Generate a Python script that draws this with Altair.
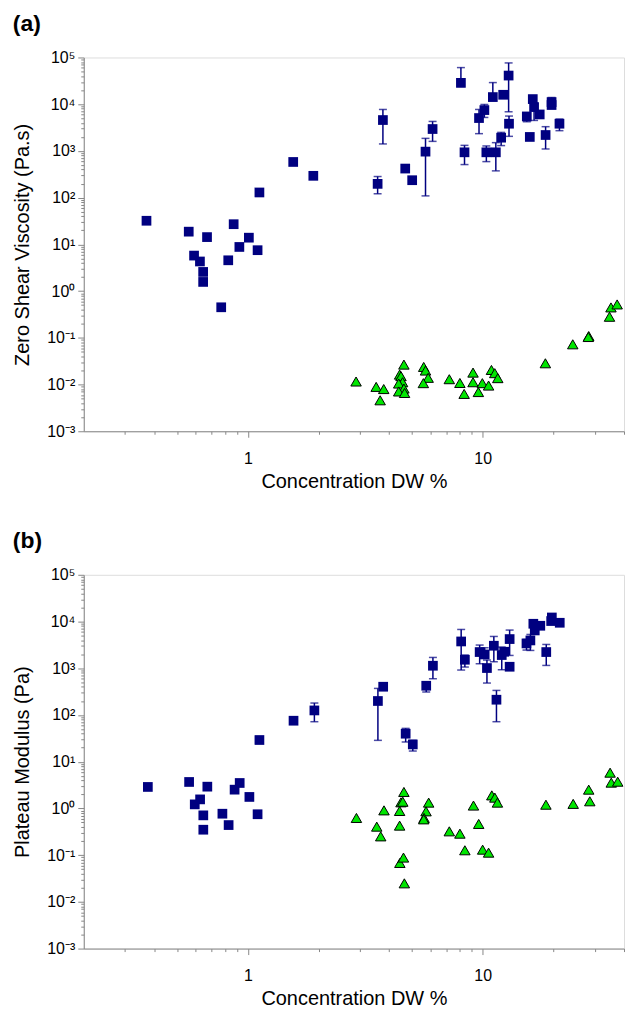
import altair as alt
import pandas as pd

FONT = "Liberation Sans"
NAVY = "#000080"
GREEN = "#00e600"

# ---------------- Panel (a): zero shear viscosity ----------------
a_blue_x = [0.37, 0.56, 0.67, 0.59, 0.625, 0.645, 0.645, 0.87, 0.825, 0.92, 1.01, 1.10, 1.12, 1.56, 1.90, 0.77,
            3.57, 3.76, 4.68, 5.01, 5.71, 6.12, 8.08, 8.37, 9.65, 10.17, 10.37, 11.05, 11.38, 11.99, 12.23,
            12.90, 12.95, 15.42, 15.88, 16.35, 16.56, 17.5, 18.54, 19.66, 19.66, 21.24]
a_blue_y = [32, 18.7, 14.3, 5.75, 4.3, 2.57, 1.57, 27, 4.56, 8.8, 13.9, 7.5, 129, 580, 293, 0.45,
            197, 4580, 419, 236, 965, 2940, 28600, 933, 5050, 7480, 933, 14200, 933, 1920, 15900,
            41000, 3820, 5470, 1990, 12850, 8670, 6030, 2190, 11100, 9600, 3820]
a_err_x = [1.56, 3.57, 3.76, 5.71, 6.12, 8.08, 8.37, 9.65, 10.17, 10.37, 11.05, 11.38, 11.99, 12.90,
           12.95, 15.42, 16.35, 16.56, 18.54, 19.66, 21.24]
a_err_lo = [520, 121, 1410, 109, 1600, 24000, 510, 2340, 5200, 590, 12000, 374, 1300, 6880,
            2050, 4210, 10800, 4490, 1100, 8090, 2710]
a_err_hi = [650, 283, 7710, 1855, 4275, 60700, 1315, 7710, 9860, 1277, 29000, 1502, 2490, 76400,
            5570, 6560, 15250, 10560, 3300, 13900, 4810]
a_green_x = [2.89, 3.52, 3.79, 3.66, 4.62, 4.43, 4.49, 4.56, 4.39, 4.62, 4.39, 4.65, 5.61, 5.71, 5.86,
             5.59, 7.21, 8.0, 8.34, 9.1, 9.1, 9.59, 9.97, 10.6, 10.9, 11.26, 11.6, 18.5, 24.2, 28.3,
             28.2, 34.7, 35.2, 37.4]
a_green_y = [0.0116, 0.0089, 0.0080, 0.0046, 0.0267, 0.0163, 0.0151, 0.0112, 0.0105, 0.0082, 0.0071,
             0.0066, 0.0238, 0.0199, 0.0139, 0.0107, 0.0130, 0.0108, 0.0063, 0.0180, 0.0112, 0.0069,
             0.0107, 0.0095, 0.0205, 0.0175, 0.0137, 0.0285, 0.0726, 0.109, 0.104, 0.282, 0.447, 0.518]

# ---------------- Panel (b): plateau modulus ----------------
b_blue_x = [0.375, 0.562, 0.626, 0.594, 0.672, 0.646, 0.646, 0.779, 0.828, 0.878, 0.923, 1.015, 1.10,
            1.12, 1.565, 1.92, 3.58, 4.70, 5.04, 11.45,
            3.77, 5.75, 6.14, 8.10, 8.40, 9.71, 10.2, 10.43, 11.16, 12.06, 12.35, 13.03, 13.03, 15.37,
            15.97, 16.44, 16.67, 17.6, 18.66, 19.71, 19.58, 21.3]
b_blue_y = [2.88, 3.68, 1.56, 1.22, 2.92, 0.71, 0.35, 0.77, 0.44, 2.52, 3.50, 1.76, 0.75,
            29.1, 75.3, 125, 199, 39.7, 23.4, 212,
            402, 422, 1131, 3743, 1520, 2220, 1973, 1010, 3030, 1915, 2254, 4210, 1076, 3394,
            3936, 8950, 6440, 8110, 2220, 12200, 10230, 9400]
b_err_x = [1.92, 3.58, 4.70, 5.04, 11.45, 5.75, 6.14, 8.10, 8.40, 9.71, 10.2, 10.43, 11.16, 12.06,
           13.03, 15.37, 15.97, 18.66]
b_err_lo = [71.7, 28.6, 26.4, 16.9, 71.7, 310, 596, 915, 1061, 1248, 1800, 482, 1377, 929,
            1879, 2449, 2404, 1148]
b_err_hi = [180, 370, 51.6, 28.6, 335, 514, 1702, 6760, 1915, 3135, 2746, 1497, 4790, 2840,
            6560, 4130, 5285, 3228]
b_green_x = [2.90, 3.54, 3.68, 3.80, 4.43, 4.43, 4.49, 4.57, 4.62, 4.44, 4.60, 4.64, 5.89, 5.74, 5.63,
             5.61, 7.21, 8.0, 8.40, 9.14, 9.62, 10.0, 10.6, 10.94, 11.27, 11.56, 18.6, 24.3, 28.3,
             28.6, 34.9, 35.3, 37.6]
b_green_y = [0.625, 0.407, 0.252, 0.908, 0.428, 0.881, 1.35, 1.39, 2.25, 0.068, 0.0886, 0.0249, 1.33,
             0.865, 0.625, 0.583, 0.323, 0.288, 0.127, 1.15, 0.465, 0.131, 0.113, 1.90, 1.70, 1.33,
             1.20, 1.25, 2.52, 1.42, 5.82, 3.56, 3.73]

# ---------------- Axis ticks ----------------
x_ticks = sorted({round(m * 10 ** e, 6) for e in (-1, 0, 1) for m in range(1, 10)
                  if 0.3 <= m * 10 ** e <= 40})
y_ticks = [round(m * 10 ** e, 8) for e in range(-3, 5) for m in range(1, 10)] + [100000]
y_powers = {-3: "10⁻³", -2: "10⁻²", -1: "10⁻¹", 0: "10⁰", 1: "10¹", 2: "10²", 3: "10³", 4: "10⁴", 5: "10⁵"}

MAJOR = "abs(log(datum.value)/LN10 - round(log(datum.value)/LN10)) < 0.000001"
y_label_expr = " : ".join(
    f"datum.value === {10.0 ** e if e < 0 else int(10 ** e)} ? '{s}'" for e, s in y_powers.items()
) + " : ''"
x_label_expr = "datum.value === 1 ? '1' : datum.value === 10 ? '10' : ''"

tick_size = {"condition": {"test": MAJOR, "value": 6}, "value": 3}

PLOT_W = 542
PLOT_H = 375


def panel(tag, ytitle, bx, by, ex, elo, ehi, gx, gy):
    blue = pd.DataFrame({"x": bx, "y": by})
    err = pd.DataFrame({"x": ex, "lo": elo, "hi": ehi})
    green = pd.DataFrame({"x": gx, "y": gy})

    xs = alt.Scale(type="log", domain=[0.2, 40], nice=False)
    ys = alt.Scale(type="log", domain=[0.001, 100000], nice=False)

    xaxis = alt.Axis(values=x_ticks, labelExpr=x_label_expr, tickSize=tick_size, grid=False,
                     title="Concentration DW %", labelFontSize=16, titleFontSize=20,
                     titleFontWeight="normal", labelPadding=13, titlePadding=5,
                     labelFlush=False, labelOverlap=False)
    yaxis = alt.Axis(values=y_ticks, labelExpr=y_label_expr, tickSize=tick_size, grid=False,
                     title=ytitle, labelFontSize=16, titleFontSize=20, titleFontWeight="normal",
                     labelPadding=3, titlePadding=14, labelFlush=False, labelOverlap=False)

    x_enc = alt.X("x:Q", scale=xs, axis=xaxis)

    rules = alt.Chart(err).mark_rule(color=NAVY, strokeWidth=1.5).encode(
        x=x_enc, y=alt.Y("lo:Q", scale=ys, axis=yaxis), y2="hi:Q")
    cap_lo = alt.Chart(err).mark_tick(color=NAVY, orient="horizontal", size=8, thickness=1.5).encode(
        x=alt.X("x:Q", scale=xs), y=alt.Y("lo:Q", scale=ys))
    cap_hi = alt.Chart(err).mark_tick(color=NAVY, orient="horizontal", size=8, thickness=1.5).encode(
        x=alt.X("x:Q", scale=xs), y=alt.Y("hi:Q", scale=ys))
    squares = alt.Chart(blue).mark_point(shape="square", filled=True, size=95, color=NAVY,
                                         opacity=1).encode(
        x=alt.X("x:Q", scale=xs), y=alt.Y("y:Q", scale=ys))
    triangles = alt.Chart(green).mark_point(shape="triangle-up", filled=True, size=110, fill=GREEN,
                                            stroke="black", strokeWidth=1, opacity=1).encode(
        x=alt.X("x:Q", scale=xs), y=alt.Y("y:Q", scale=ys))

    return alt.layer(rules, cap_lo, cap_hi, squares, triangles).properties(
        width=PLOT_W, height=PLOT_H,
        title=alt.TitleParams(tag, anchor="start", frame="bounds", fontSize=23, fontWeight="bold",
                              font=FONT, color="black", offset=14),
    )


pa = panel("(a)", "Zero Shear Viscosity (Pa.s)", a_blue_x, a_blue_y, a_err_x, a_err_lo, a_err_hi,
           a_green_x, a_green_y)
pb = panel("(b)", "Plateau Modulus (Pa)", b_blue_x, b_blue_y, b_err_x, b_err_lo, b_err_hi,
           b_green_x, b_green_y)

chart = alt.vconcat(pa, pb, spacing=37).properties(
    padding={"left": 4, "top": 2, "right": 0, "bottom": 0}
).configure_view(stroke=None).configure_axis(
    labelFont=FONT, titleFont=FONT, labelColor="black", titleColor="black",
    titleFontWeight="normal", domainColor="black", tickColor="black", domainWidth=1.5,
    tickWidth=1.2,
).configure(background="white")

chart.save("out.html", embed_options={"renderer": "svg", "actions": False})
